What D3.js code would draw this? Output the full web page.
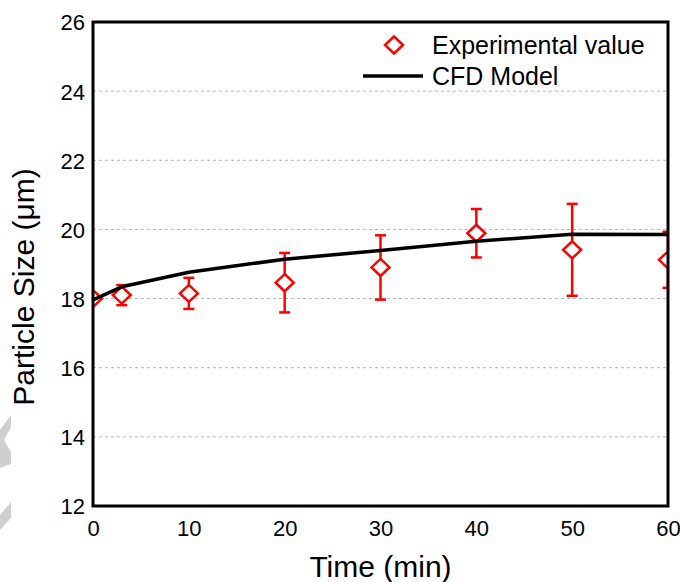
<!DOCTYPE html>
<html>
<head>
<meta charset="utf-8">
<script src="https://cdn.jsdelivr.net/npm/d3@7"></script>
<style>
  html, body { margin: 0; padding: 0; background: #fff; }
  svg { display: block; font-family: "Liberation Sans", Arial, sans-serif; }
</style>
</head>
<body>
<svg id="chart" width="680" height="582"></svg>
<script>
// ---- data ----
const timeExp = [0, 3, 10, 20, 30, 40, 50, 60];
const sizeExp = [18.0, 18.1, 18.15, 18.46, 18.9, 19.89, 19.41, 19.12];
const errExp  = [0.1, 0.29, 0.45, 0.86, 0.93, 0.7, 1.33, 0.81];

const timeCfd = [0, 3, 10, 20, 30, 40, 50, 60];
const sizeCfd = [17.96, 18.34, 18.76, 19.14, 19.39, 19.66, 19.86, 19.85];

const xTicks = [0, 10, 20, 30, 40, 50, 60];
const yTicks = [12, 14, 16, 18, 20, 22, 24, 26];
const gridTicks = [14, 16, 18, 20, 22, 24];

const legendLabels = ["Experimental value", "CFD Model"];
const xTitle = "Time (min)";
const yTitle = "Particle Size (\u03BCm)";

// ---- layout ----
const svg = d3.select("#chart");
const L = 93, R = 668, T = 22, B = 506;

const x = d3.scaleLinear().domain([0, 60]).range([L, R]);
const y = d3.scaleLinear().domain([12, 26]).range([B, T]);

// watermark fragments (decorative)
svg.append("polygon")
  .attr("points", "0,430 11,415 11,427 4,440 11,452 11,464 0,468")
  .attr("fill", "#cfcfcf");
svg.append("polygon")
  .attr("points", "0,515 11,502 11,518 0,530")
  .attr("fill", "#cfcfcf");

// clip
svg.append("defs").append("clipPath").attr("id", "plotclip")
  .append("rect").attr("x", L).attr("y", T).attr("width", R - L).attr("height", B - T);

// grid
svg.append("g").selectAll("line").data(gridTicks).join("line")
  .attr("x1", L).attr("x2", R)
  .attr("y1", d => y(d)).attr("y2", d => y(d))
  .attr("stroke", "#b4b4b4").attr("stroke-width", 1)
  .attr("stroke-dasharray", "3,3");

const plot = svg.append("g").attr("clip-path", "url(#plotclip)");

const expData = timeExp.map((t, i) => ({ t, v: sizeExp[i], e: errExp[i] }));

// error bars
const eb = plot.append("g").attr("stroke", "#ff0000").attr("stroke-width", 2.5).attr("fill", "none");
eb.selectAll("line.v").data(expData).join("line").attr("class", "v")
  .attr("x1", d => x(d.t)).attr("x2", d => x(d.t))
  .attr("y1", d => y(d.v + d.e)).attr("y2", d => y(d.v - d.e));
eb.selectAll("line.top").data(expData).join("line").attr("class", "top")
  .attr("x1", d => x(d.t) - 5.5).attr("x2", d => x(d.t) + 5.5)
  .attr("y1", d => y(d.v + d.e)).attr("y2", d => y(d.v + d.e));
eb.selectAll("line.bot").data(expData).join("line").attr("class", "bot")
  .attr("x1", d => x(d.t) - 5.5).attr("x2", d => x(d.t) + 5.5)
  .attr("y1", d => y(d.v - d.e)).attr("y2", d => y(d.v - d.e));

// diamonds
const diamond = (cx, cy) => `M${cx},${cy - 8.5} L${cx + 9},${cy} L${cx},${cy + 8.5} L${cx - 9},${cy} Z`;
plot.selectAll("path.dm").data(expData).join("path").attr("class", "dm")
  .attr("d", d => diamond(x(d.t), y(d.v)))
  .attr("fill", "#fff").attr("stroke", "#ff0000").attr("stroke-width", 2.5)
  .attr("stroke-linejoin", "miter");

// CFD line
const cfdData = timeCfd.map((t, i) => ({ t, v: sizeCfd[i] }));
plot.append("path").datum(cfdData)
  .attr("d", d3.line().x(d => x(d.t)).y(d => y(d.v)))
  .attr("fill", "none").attr("stroke", "#000").attr("stroke-width", 3.5)
  .attr("stroke-linejoin", "round");

// frame
svg.append("rect").attr("x", L).attr("y", T).attr("width", R - L).attr("height", B - T)
  .attr("fill", "none").attr("stroke", "#000").attr("stroke-width", 3);

// axes
const yAxis = svg.append("g").attr("transform", `translate(${L},0)`)
  .call(d3.axisLeft(y).tickValues(yTicks).tickFormat(d3.format("d")).tickSize(0).tickPadding(8));
yAxis.select(".domain").remove();
yAxis.selectAll("text").attr("font-size", 22).attr("fill", "#000")
  .attr("font-family", "Liberation Sans, Arial, sans-serif").attr("dy", "0.36em");

const xAxis = svg.append("g").attr("transform", `translate(0,${B})`)
  .call(d3.axisBottom(x).tickValues(xTicks).tickFormat(d3.format("d")).tickSize(0).tickPadding(14));
xAxis.select(".domain").remove();
xAxis.selectAll("text").attr("font-size", 22).attr("fill", "#000")
  .attr("font-family", "Liberation Sans, Arial, sans-serif");

// titles
svg.append("text").attr("x", (L + R) / 2).attr("y", 577)
  .attr("text-anchor", "middle").attr("font-size", 30).attr("fill", "#000")
  .text(xTitle);
svg.append("text").attr("transform", "translate(34,287) rotate(-90)")
  .attr("text-anchor", "middle").attr("font-size", 30).attr("fill", "#000")
  .text(yTitle);

// legend
const lg = svg.append("g");
lg.append("path").attr("d", diamond(394, 45))
  .attr("fill", "#fff").attr("stroke", "#ff0000").attr("stroke-width", 2.5);
lg.append("text").attr("x", 432).attr("y", 53.5).attr("font-size", 25).attr("fill", "#000")
  .text(legendLabels[0]);
lg.append("line").attr("x1", 363).attr("x2", 423).attr("y1", 76).attr("y2", 76)
  .attr("stroke", "#000").attr("stroke-width", 3.5);
lg.append("text").attr("x", 432).attr("y", 84.5).attr("font-size", 25).attr("fill", "#000")
  .text(legendLabels[1]);
</script>
</body>
</html>
